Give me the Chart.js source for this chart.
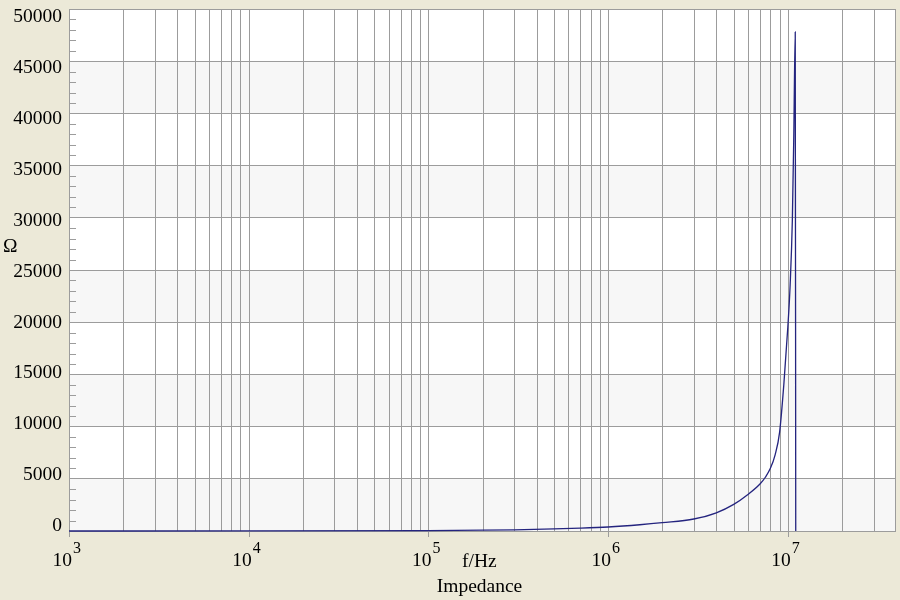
<!DOCTYPE html>
<html>
<head>
<meta charset="utf-8">
<script src="https://cdn.jsdelivr.net/npm/chart.js@4.4.1/dist/chart.umd.min.js"></script>
<style>
  html, body { margin: 0; padding: 0; background: #ECE9D8; }
  #wrap { width: 900px; height: 600px; }
  canvas { display: block; }
</style>
</head>
<body>
<div id="wrap"><canvas id="c" width="900" height="600"></canvas></div>
<script>
// ---- data ----
const freqHz = [1e3, 1e4, 1e5, 2e5, 3e5, 5e5, 7e5, 1e6, 1.5e6, 2e6, 3e6, 4e6, 5e6, 6e6, 7e6, 7.5e6, 8e6, 8.5e6, 9e6, 9.5e6, 1e7, 1.03e7, 1.06e7, 1.08e7, 1.1e7, 1.107e7];
const impedanceOhm = [0.4, 4, 38, 77, 116, 195, 270, 385, 600, 800, 1150, 1740, 2550, 3500, 4500, 5150, 6000, 7300, 9450, 14000, 19500, 23500, 29800, 38000, 47800, 0];
const xDecadeExponents = [3, 4, 5, 6, 7];
const yMajorTicks = [0, 5000, 10000, 15000, 20000, 25000, 30000, 35000, 40000, 45000, 50000];
const xAxisUnit = 'f/Hz';
const yAxisUnit = 'Ω';
const chartTitle = 'Impedance';

const SERIF = "'Liberation Serif', 'Times New Roman', serif";
const GRID = '#9c9c9c';

const decorPlugin = {
  id: 'decor',
  beforeDraw(chart) {
    const {ctx, chartArea: a, scales: {y}} = chart;
    ctx.save();
    ctx.fillStyle = '#ffffff';
    ctx.fillRect(a.left, a.top, a.right - a.left, a.bottom - a.top);
    ctx.fillStyle = '#f7f7f7';
    for (let i = 0; i + 1 < yMajorTicks.length; i += 2) {
      const y0 = y.getPixelForValue(yMajorTicks[i]);
      const y1 = y.getPixelForValue(yMajorTicks[i + 1]);
      ctx.fillRect(a.left, y1, a.right - a.left, y0 - y1);
    }
    ctx.restore();
  },
  beforeDatasetsDraw(chart) {
    const {ctx, chartArea: a, scales: {x, y}} = chart;
    ctx.save();
    ctx.strokeStyle = GRID;
    ctx.lineWidth = 1;
    // vertical log grid lines
    for (const e of [3, 4, 5, 6, 7]) {
      for (let k = 1; k <= 9; k++) {
        const v = k * Math.pow(10, e);
        if (v <= x.min || v >= x.max) continue;
        const px = Math.round(x.getPixelForValue(v)) + 0.5;
        ctx.beginPath();
        ctx.moveTo(px, a.top);
        ctx.lineTo(px, a.bottom);
        ctx.stroke();
      }
    }
    // minor y ticks inside plot
    for (let v = 1000; v < 50000; v += 1000) {
      if (v % 5000 === 0) continue;
      const py = Math.round(y.getPixelForValue(v)) + 0.5;
      ctx.beginPath();
      ctx.moveTo(a.left + 1, py);
      ctx.lineTo(a.left + 7, py);
      ctx.stroke();
    }
    // border
    ctx.strokeRect(Math.round(a.left) + 0.5, Math.round(a.top) + 0.5,
                   Math.round(a.right - a.left) - 1, Math.round(a.bottom - a.top));
    // decade tick marks below axis
    for (const e of xDecadeExponents) {
      const px = Math.round(x.getPixelForValue(Math.pow(10, e))) + 0.5;
      ctx.beginPath();
      ctx.moveTo(px, a.bottom);
      ctx.lineTo(px, a.bottom + 6);
      ctx.stroke();
    }
    ctx.restore();
  },
  afterDraw(chart) {
    const {ctx, chartArea: a, scales: {x, y}} = chart;
    ctx.save();
    ctx.fillStyle = '#000';
    // y tick labels
    ctx.font = '19.5px ' + SERIF;
    ctx.textAlign = 'right';
    ctx.textBaseline = 'middle';
    const span = a.bottom - a.top;
    for (const v of yMajorTicks) {
      const gy = y.getPixelForValue(v);
      const ly = (a.top + 8) + (gy - a.top) * (span - 13) / span;
      ctx.fillText(String(v), a.left - 7, ly);
    }
    // x decade labels 10^n
    ctx.textBaseline = 'alphabetic';
    for (const e of xDecadeExponents) {
      const px = x.getPixelForValue(Math.pow(10, e));
      ctx.font = '19.5px ' + SERIF;
      ctx.textAlign = 'right';
      ctx.fillText('10', px + 3, 566);
      ctx.font = '16px ' + SERIF;
      ctx.textAlign = 'left';
      ctx.fillText(String(e), px + 4, 553);
    }
    ctx.font = '19.5px ' + SERIF;
    ctx.textAlign = 'left';
    ctx.fillText(xAxisUnit, 462, 567);
    ctx.fillText(yAxisUnit, 3, 252);
    ctx.textAlign = 'center';
    ctx.fillText(chartTitle, (a.left + a.right) / 2 - 3, 592);
    ctx.restore();
  }
};

new Chart(document.getElementById('c'), {
  type: 'line',
  data: {
    datasets: [{
      label: chartTitle,
      data: freqHz.map((f, i) => ({x: f, y: impedanceOhm[i]})),
      borderColor: '#24247f',
      borderWidth: 1.3,
      pointRadius: 0,
      fill: false,
      cubicInterpolationMode: 'monotone',
      clip: 4
    }]
  },
  options: {
    responsive: false,
    animation: false,
    layout: { padding: { left: 0, top: 9, right: 4, bottom: 0 } },
    plugins: { legend: { display: false }, tooltip: { enabled: false } },
    scales: {
      x: {
        type: 'logarithmic',
        min: 1000,
        max: 4e7,
        grid: { display: false },
        border: { display: false },
        ticks: { display: false },
        afterFit(s) { s.height = 69; }
      },
      y: {
        type: 'linear',
        min: 0,
        max: 50000,
        afterBuildTicks(s) { s.ticks = yMajorTicks.map(v => ({value: v})); },
        grid: { color: GRID, lineWidth: 1, drawTicks: false },
        border: { display: false },
        ticks: { display: false },
        afterFit(s) { s.width = 69; }
      }
    }
  },
  plugins: [decorPlugin]
});
</script>
</body>
</html>
